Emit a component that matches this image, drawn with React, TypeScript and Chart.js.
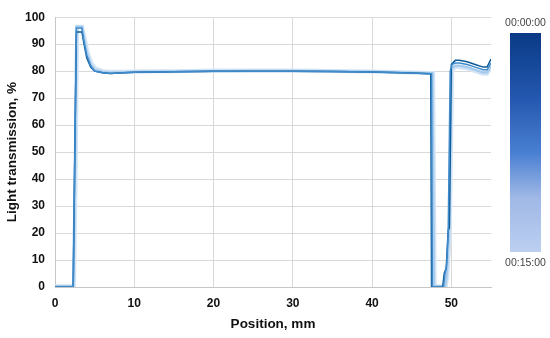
import React, { useEffect, useRef } from "react";
import { Chart, registerables } from "chart.js";

Chart.register(...registerables);

// Series: 00:00:00 (darkest) ... 00:15:00 (lightest)
const posDark = [0, 2.3, 2.5, 2.7, 3.0, 3.4, 3.6, 4.0, 4.5, 5.0, 6, 7, 8, 10, 15, 20, 25, 30, 35, 40, 45, 47.3, 47.4, 47.5, 48.9, 49.1, 49.35, 49.6, 49.75, 50.0, 50.5, 51, 52, 53, 54, 54.5, 55];
const valDark = [0, 0, 50, 94.5, 94.5, 94.5, 91, 85, 81.5, 80, 79.4, 79.1, 79.3, 79.6, 79.8, 80, 80, 80, 79.9, 79.7, 79.3, 79, 79, 0, 0, 5, 7, 21, 22, 82.5, 84, 84, 83.5, 82.5, 81.5, 81.5, 84.5];

const posMid = [0, 2.3, 2.5, 2.7, 3.0, 3.4, 3.6, 4.0, 4.5, 5.0, 6, 7, 8, 10, 15, 20, 25, 30, 35, 40, 45, 47.4, 47.5, 47.6, 49.0, 49.2, 49.4, 49.6, 49.85, 50.1, 50.5, 51, 52, 53, 54, 54.5, 55];
const valMid = [0, 0, 50, 96, 96, 96, 92, 86, 82, 80, 79.4, 79.1, 79.3, 79.6, 79.8, 80, 80, 80, 79.9, 79.7, 79.3, 79, 79, 0, 0, 5, 8, 20, 80, 82.5, 83, 83, 82.5, 81.5, 80.5, 80.5, 83];

const posLight = [0, 2.3, 2.5, 2.7, 3.0, 3.4, 3.6, 4.0, 4.5, 5.0, 6, 7, 8, 10, 15, 20, 25, 30, 35, 40, 45, 47.5, 47.6, 47.8, 49.2, 49.4, 49.7, 50.0, 50.5, 51, 52, 53, 54, 54.5, 55];
const valLight = [0.3, 0.3, 40, 96.5, 96.5, 96.5, 93, 87, 82.5, 80.5, 79.7, 79.4, 79.5, 79.7, 79.9, 80, 80.1, 80.1, 80, 79.8, 79.4, 79.2, 79.2, 0.3, 0.3, 4, 20, 81, 82, 82, 81.5, 80.5, 79.5, 79.5, 82];

const posLightest = [0, 2.4, 2.6, 2.8, 3.0, 3.4, 3.7, 4.1, 4.6, 5.1, 6, 7, 8, 10, 15, 20, 25, 30, 35, 40, 45, 47.6, 47.7, 47.9, 49.3, 49.5, 49.8, 50.1, 50.5, 51, 52, 53, 54, 54.5, 55];
const valLightest = [0.3, 0.3, 40, 96.5, 96.5, 96.5, 93, 87, 83, 81, 80, 79.8, 79.8, 79.9, 80, 80.2, 80.2, 80.2, 80.1, 79.9, 79.5, 79.3, 79.3, 0.3, 0.3, 4, 20, 80.5, 81.5, 81.5, 81, 80, 79, 79, 81.5];

const xTicks = [0, 10, 20, 30, 40, 50];
const yTicks = [0, 10, 20, 30, 40, 50, 60, 70, 80, 90, 100];
const legendTop = "00:00:00";
const legendBottom = "00:15:00";

const toPoints = (xs: number[], ys: number[]) => xs.map((x, i) => ({ x, y: ys[i] }));

const colorBarPlugin = {
  id: "colorBar",
  afterDraw(chart: any) {
    const ctx = chart.ctx;
    const x0 = 510, x1 = 541, y0 = 33, y1 = 252;
    const g = ctx.createLinearGradient(0, y0, 0, y1);
    g.addColorStop(0, "#0a3a86");
    g.addColorStop(0.3, "#2458b0");
    g.addColorStop(0.55, "#4a80d2");
    g.addColorStop(0.75, "#9fb8e6");
    g.addColorStop(1, "#bccff1");
    ctx.save();
    ctx.fillStyle = g;
    ctx.fillRect(x0, y0, x1 - x0, y1 - y0);
    ctx.fillStyle = "#444";
    ctx.font = "10.5px 'Liberation Sans', Arial, sans-serif";
    ctx.textAlign = "center";
    ctx.textBaseline = "middle";
    ctx.fillText(legendTop, (x0 + x1) / 2, 23);
    ctx.fillText(legendBottom, (x0 + x1) / 2, 263);
    ctx.restore();
  },
};

export default function App() {
  const ref = useRef<HTMLCanvasElement | null>(null);
  useEffect(() => {
    document.body.style.margin = "0";
    const font = { family: "'Liberation Sans', Arial, sans-serif", size: 12, weight: "bold" as const };
    const xTitleFont = { family: "'Liberation Sans', Arial, sans-serif", size: 13.5, weight: "bold" as const };
    const yTitleFont = { family: "'Liberation Sans Narrow', 'Liberation Sans', Arial, sans-serif", size: 13.5, weight: "bold" as const };
    const chart = new Chart(ref.current!, {
      type: "line",
      data: {
        datasets: [
          { data: toPoints(posMid, valMid), borderColor: "#3f8acb", borderWidth: 1.5 },
          { data: toPoints(posDark, valDark), borderColor: "#0e5a96", borderWidth: 1.5 },
          { data: toPoints(posLight, valLight), borderColor: "#a6cbec", borderWidth: 2.5 },
          { data: toPoints(posLightest, valLightest), borderColor: "#d2e4f5", borderWidth: 4 },
        ].map((d) => ({ ...d, pointRadius: 0, tension: 0, fill: false })),
      },
      options: {
        responsive: false,
        animation: false,
        layout: { padding: { left: 0, top: 13, right: 59, bottom: 0 } },
        plugins: { legend: { display: false }, tooltip: { enabled: false } },
        scales: {
          x: {
            type: "linear",
            min: 0,
            max: 55,
            afterFit: (s: any) => { s.height = 51; },
            afterBuildTicks: (s: any) => { s.ticks = xTicks.map((v) => ({ value: v })); },
            ticks: { font, color: "#111", padding: 9, maxRotation: 0 },
            grid: { color: "#d9d9d9", drawTicks: false },
            border: { color: "#c6c6c6" },
            title: { display: true, text: "Position, mm", font: xTitleFont, color: "#111", padding: { top: 0, bottom: 6 } },
          },
          y: {
            min: 0,
            max: 100,
            afterFit: (s: any) => { s.width = 55; },
            afterBuildTicks: (s: any) => { s.ticks = yTicks.map((v) => ({ value: v })); },
            ticks: { font, color: "#111", padding: 10 },
            grid: { color: "#d9d9d9", drawTicks: false },
            border: { color: "#c6c6c6" },
            title: { display: true, text: "Light transmission, %", font: yTitleFont, color: "#111", padding: { top: 4, bottom: 0 } },
          },
        },
      },
      plugins: [colorBarPlugin],
    });
    return () => chart.destroy();
  }, []);
  return (
    <div style={{ width: 550, height: 338, background: "#fff" }}>
      <canvas ref={ref} width={550} height={338} />
    </div>
  );
}
